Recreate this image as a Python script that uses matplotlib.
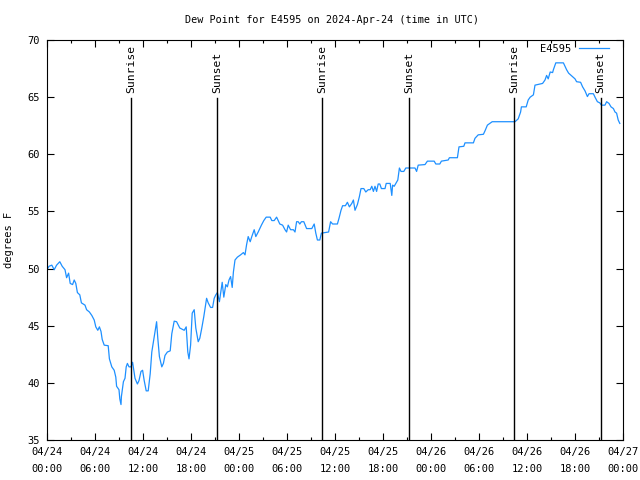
import numpy as np
import matplotlib
matplotlib.use("Agg")
import matplotlib.pyplot as plt

# hours since 2024-04-24 00:00 UTC
hours = [0, 0.25, 0.6, 0.9, 1.2, 1.6, 1.9, 2.25, 2.45, 2.7, 2.9, 3.2, 3.4, 3.6, 3.8,
         4.1, 4.3, 4.75, 4.95, 5.3, 5.6, 5.9, 6.1, 6.35, 6.55, 6.75, 6.9, 7.15, 7.65,
         7.8, 8.1, 8.4, 8.6, 8.7, 9.0, 9.1, 9.25, 9.3, 9.55, 9.75, 9.9, 10.05, 10.25,
         10.5, 10.7, 11.0, 11.3, 11.5, 11.75, 11.95, 12.15, 12.4, 12.65, 12.9, 13.1,
         13.3, 13.5, 13.7, 13.85, 14.05, 14.35, 14.55, 14.75, 15.05, 15.4, 15.6, 15.9,
         16.2, 16.6, 17.15, 17.4, 17.6, 17.75, 17.95, 18.15, 18.4, 18.6, 18.9, 19.1,
         19.35, 19.6, 19.75, 19.95, 20.15, 20.45, 20.7, 20.9, 21.1, 21.3, 21.55, 21.75,
         21.9, 22.1, 22.35, 22.55, 22.75, 22.95, 23.15, 23.3, 23.5, 23.8, 24.2, 24.55,
         24.75, 24.95, 25.15, 25.4, 25.6, 25.9, 26.1, 26.4, 26.8, 27.1, 27.4, 27.9,
         28.1, 28.4, 28.7, 29.1, 29.45, 29.75, 29.95, 30.15, 30.45, 30.8, 31.0, 31.2,
         31.4, 31.6, 31.8, 32.1, 32.45, 33.1, 33.4, 33.6, 33.8, 34.1, 34.3, 35.2,
         35.45, 35.7, 36.3, 36.5, 36.75, 36.95, 37.3, 37.55, 37.8, 38.1, 38.3, 38.5,
         38.8, 39.05, 39.25, 39.6, 39.85, 40.15, 40.4, 40.6, 40.8, 41.0, 41.2, 41.4,
         41.6, 41.8, 42.25, 42.4, 42.9, 43.1, 43.2, 43.4, 43.6, 43.85, 44.05, 44.25,
         44.6, 44.85, 46.0, 46.2, 46.4, 47.25, 47.55, 48.4, 48.6, 49.1, 49.3, 50.15,
         50.3, 51.3, 51.5, 52.1, 52.25, 53.3, 53.5, 53.9, 54.55, 54.75, 55.05, 55.65,
         58.5, 58.9, 59.2, 59.3, 59.9, 60.15, 60.4, 60.8, 61.0, 61.95, 62.25, 62.45,
         62.65, 62.9, 63.2, 63.3, 63.6, 64.55, 64.75, 64.95, 65.2, 65.6, 66.0, 66.2,
         66.7, 66.95, 67.25, 67.55, 67.75, 68.3, 68.5, 68.8, 69.1, 69.3, 69.75, 69.95,
         70.25, 70.5, 70.8, 71.0, 71.2, 71.4, 71.6]

dewpoint = [49.9, 50.2, 50.3, 49.9, 50.3, 50.6, 50.2, 49.9, 49.2, 49.6, 48.7, 48.6, 49.0,
            48.7, 47.9, 47.7, 47.0, 46.8, 46.4, 46.2, 45.9, 45.5, 44.9, 44.6, 44.9, 44.5,
            43.8, 43.3, 43.25, 42.1, 41.4, 41.1, 40.5, 39.7, 39.4, 38.6, 38.1, 38.8, 40.1,
            40.4, 41.4, 41.7, 41.4, 41.4, 41.8, 40.4, 39.9, 40.2, 41.0, 41.1, 40.2, 39.3,
            39.3, 40.8, 42.7, 43.6, 44.5, 45.35, 43.9, 42.3, 41.4, 41.7, 42.4, 42.7, 42.8,
            44.3, 45.4, 45.35, 44.8, 44.6, 44.9, 42.7, 42.1, 43.3, 46.1, 46.4, 44.8, 43.6,
            43.9, 44.8, 45.8, 46.5, 47.4, 47.0, 46.6, 46.6, 47.4, 47.7, 47.9, 47.1, 48.1,
            48.8, 47.5, 48.6, 48.4, 49.0, 49.3, 48.35, 49.7, 50.75, 51.0, 51.2, 51.4,
            51.2, 52.1, 52.8, 52.35, 52.8, 53.4, 52.8, 53.2, 53.8, 54.2, 54.5, 54.5,
            54.2, 54.2, 54.5, 53.9, 53.8, 53.4, 53.2, 53.8, 53.4, 53.4, 53.2, 54.1,
            54.1, 53.9, 54.1, 54.1, 53.5, 53.5, 53.9, 53.1, 52.5, 52.5, 53.1, 53.2,
            54.1, 53.9, 53.9, 54.4, 55.1, 55.5, 55.5, 55.8, 55.4, 55.7, 56.0, 55.1,
            55.6, 56.3, 57.0, 57.0, 56.7, 56.9, 56.9, 57.2, 56.75, 57.2, 56.75, 57.4,
            57.4, 57.0, 57.0, 57.45, 57.45, 56.4, 57.3, 57.2, 57.45, 57.75, 58.8, 58.5,
            58.5, 58.8, 58.8, 58.5, 59.05, 59.1, 59.4, 59.4, 59.15, 59.15, 59.4, 59.5,
            59.7, 59.7, 60.65, 60.7, 61.0, 61.0, 61.4, 61.7, 61.75, 62.05, 62.55, 62.85,
            62.85, 63.1, 63.7, 64.15, 64.15, 64.75, 65.0, 65.2, 66.05, 66.2, 66.5, 66.9,
            66.6, 67.2, 67.15, 67.4, 68.0, 68.0, 67.7, 67.4, 67.1, 66.85, 66.6, 66.35,
            66.3, 65.9, 65.55, 65.05, 65.3, 65.3, 65.0, 64.6, 64.5, 64.3, 64.3, 64.6,
            64.45, 64.15, 64.0, 63.7, 63.6, 63.0, 62.7]

sun_hours = [10.55, 21.3, 34.4, 45.3, 58.4, 69.2]
sun_labels = ['Sunrise', 'Sunset', 'Sunrise', 'Sunset', 'Sunrise', 'Sunset']

tick_hours = list(range(0, 73, 6))
tick_labels = ['04/24\n00:00', '04/24\n06:00', '04/24\n12:00', '04/24\n18:00',
               '04/25\n00:00', '04/25\n06:00', '04/25\n12:00', '04/25\n18:00',
               '04/26\n00:00', '04/26\n06:00', '04/26\n12:00', '04/26\n18:00',
               '04/27\n00:00']

plt.rcParams['font.family'] = 'DejaVu Sans Mono'
plt.rcParams['font.size'] = 7

fig = plt.figure(figsize=(6.4, 4.8), dpi=100)
ax = fig.add_axes([47/640, 40/480, 576/640, 400/480])

ax.plot(hours, dewpoint, color='#1E90FF', lw=0.9, label='E4595')

for h, lab in zip(sun_hours, sun_labels):
    ax.plot([h, h], [35, 64.9], color='black', lw=1)
    ax.text(h, 65.4, lab, rotation=90, ha='center', va='bottom', fontsize=8.2)

ax.set_xlim(0, 72)
ax.set_ylim(35, 70)
ax.set_xticks(tick_hours)
ax.set_xticklabels(tick_labels, linespacing=1.9)
ax.set_xticks(np.arange(0, 73, 3), minor=True)
ax.set_yticks(np.arange(35, 71, 5))
ax.tick_params(which='both', direction='in', top=True, right=True, width=0.8)
ax.tick_params(which='major', length=5, pad=5, labelsize=7.5)
ax.tick_params(which='minor', length=2.5)
for s in ax.spines.values():
    s.set_linewidth(0.8)

ax.set_ylabel('degrees F', fontsize=7.5, labelpad=10)
fig.text(332/640, 1 - 20/480, 'Dew Point for E4595 on 2024-Apr-24 (time in UTC)',
         ha='center', va='center', fontsize=7.3)

ax.legend(loc='upper right', bbox_to_anchor=(0.984, 1.003), frameon=False,
          markerfirst=False, handlelength=2.8, fontsize=7.5,
          borderaxespad=0.3, borderpad=0.2)

fig.savefig('out.png', dpi=100)
